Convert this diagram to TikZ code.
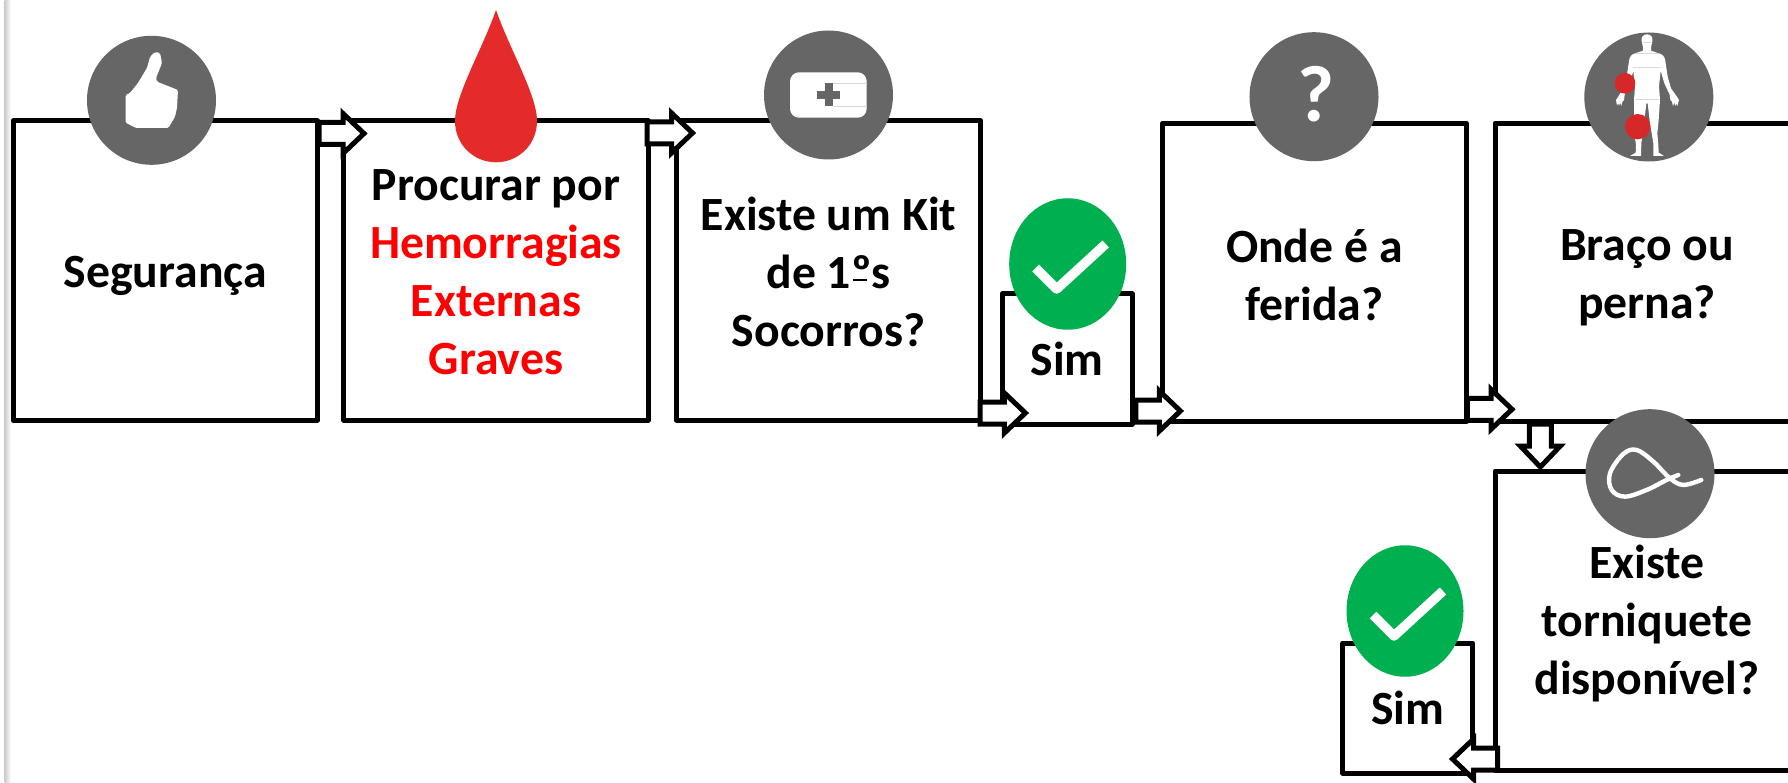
\documentclass[tikz,border=0pt]{standalone}
\usepackage{fontspec}
\setmainfont{Carlito}
\usetikzlibrary{calc,shapes.geometric}
\definecolor{icongray}{HTML}{666666}
\definecolor{okgreen}{HTML}{00B050}
\definecolor{dropred}{HTML}{E52A2A}
\definecolor{spotred}{HTML}{D62828}
\definecolor{txtred}{HTML}{FF0000}
\tikzset{
  stepbox/.style={draw=black,fill=white,line width=5pt,line join=round,rectangle,inner sep=0pt},
  steptext/.style={align=center,inner sep=0pt,font=\fontsize{47.7}{58}\selectfont\bfseries,text=black},
  iconcirc/.style={circle,fill=icongray,minimum size=129pt,inner sep=0pt},
  okcirc/.style={ellipse,fill=okgreen,minimum width=117pt,minimum height=131.5pt,inner sep=0pt},
  checkmark/.style={draw=white,line width=9.5pt,line join=round},
  blockto/.style={draw=black,fill=white,line width=5pt,miter limit=10,to path={
    -- ($(\tikztostart)!11pt!90:(\tikztotarget)$)
    -- ($(\tikztotarget)!21pt!(\tikztostart)!11pt!90:(\tikztotarget)$)
    -- ($(\tikztotarget)!21pt!(\tikztostart)!20pt!90:(\tikztotarget)$)
    -- (\tikztotarget)
    -- ($(\tikztotarget)!21pt!(\tikztostart)!20pt!-90:(\tikztotarget)$)
    -- ($(\tikztotarget)!21pt!(\tikztostart)!11pt!-90:(\tikztotarget)$)
    -- ($(\tikztostart)!11pt!-90:(\tikztotarget)$)
    -- cycle}},
}
\begin{document}
\begin{tikzpicture}[x=1pt,y=-1pt]
\useasboundingbox (0,0) rectangle (1788,783);
\clip (0,0) rectangle (1788,783);
\fill[white] (0,0) rectangle (1788,783);
\shade[left color=black!20,right color=white] (4.5,0) rectangle (11,783);

% boxes
\node[stepbox,minimum width=304.5pt,minimum height=299pt,
  label={[steptext,yshift=-5.5pt]center:Segurança}] (seg) at (165.3,270.5) {};
\node[stepbox,minimum width=304.5pt,minimum height=299pt,
  label={[steptext,yshift=-2pt]center:{Procurar por\\\textcolor{txtred}{Hemorragias}\\\textcolor{txtred}{Externas}\\\textcolor{txtred}{Graves}}}] (hem) at (496,270.5) {};
\node[stepbox,minimum width=304.5pt,minimum height=299pt,
  label={[steptext,yshift=-1pt]center:{Existe um Kit\\de 1º\llap{\rule[7pt]{.28em}{2.5pt}\kern5pt}s\\Socorros?}}] (kit) at (828.7,270.5) {};
\node[stepbox,minimum width=130pt,minimum height=130pt,
  label={[steptext]center:Sim}] (sim1) at (1067,359) {};
\node[stepbox,minimum width=304pt,minimum height=298.5pt,
  label={[steptext,yshift=-2pt]center:{Onde é a\\ferida?}}] (onde) at (1314.3,272.5) {};
\node[stepbox,minimum width=304pt,minimum height=298.5pt,
  label={[steptext,yshift=-5.5pt]center:{Braço ou\\perna?}}] (braco) at (1647,272.5) {};
\node[stepbox,minimum width=304pt,minimum height=299pt,
  label={[steptext,yshift=-3pt]center:{Existe\\torniquete\\disponível?}}] (torn) at (1647,620.5) {};
\node[stepbox,minimum width=130pt,minimum height=130pt,
  label={[steptext]center:Sim}] (sim2) at (1407.7,708) {};

% connectors
\coordinate (a1s) at (319,133.5);   \coordinate (a1t) at (364,133.5);
\coordinate (a2s) at (647,133);     \coordinate (a2t) at (692.5,133);
\coordinate (a3s) at (980,413);     \coordinate (a3t) at (1025.4,413);
\coordinate (a4s) at (1135.8,411);  \coordinate (a4t) at (1180.4,411);
\coordinate (a5s) at (1467.3,409.3);\coordinate (a5t) at (1512,409.3);
\coordinate (a6s) at (1540.3,424);  \coordinate (a6t) at (1540.3,467);
\coordinate (a7s) at (1497.7,759);  \coordinate (a7t) at (1452.5,759);
\path[blockto] (a1s) to (a1t);
\path[blockto] (a2s) to (a2t);
\path[blockto] (a3s) to (a3t);
\path[blockto] (a4s) to (a4t);
\path[blockto] (a5s) to (a5t);
\path[blockto] (a6s) to (a6t);
\path[blockto] (a7s) to (a7t);

% thumb icon
\node[iconcirc] (ic1) at (151.5,100.3) {};
\fill[white,rounded corners=1.5pt] (125.5,95) -- (125.5,122.7) -- (136,128) -- (168.4,128) -- (175,116.7) -- (177,108)
  -- (178,90) -- (157,81.7) -- (156,78) -- (162,63) -- (160,53) -- (155,52) -- (150,57) -- (147,68) -- (138,83) -- (130,93) -- cycle;

% blood drop
\fill[dropred] (496,10) .. controls (510,50) and (537,95) .. (537,121)
  .. controls (537,145) and (518,162.3) .. (496,162.3)
  .. controls (474,162.3) and (455,145) .. (455,121)
  .. controls (455,95) and (482,50) .. (496,10) -- cycle;

% first-aid kit icon
\node[iconcirc] (ic2) at (828.5,95) {};
\fill[white,rounded corners=9pt] (790,72.3) rectangle (866.7,117.7);
\draw[black!15,line width=.8pt] (833,83) -- (866.7,83) (833,106.7) -- (866.7,106.7);
\fill[icongray] (824.5,83.5) rectangle (832.5,106.5);
\fill[icongray] (817,91) rectangle (840,99);

% check 1
\node[okcirc] (ok1) at (1067.7,264) {};
\draw[checkmark] ($(ok1)+(-32,4)$) -- ($(ok1)+(-11,25)$) -- ($(ok1)+(38,-20)$);

% question icon
\node[iconcirc,label={[text=white,inner sep=0pt,font=\fontsize{80}{80}\selectfont\bfseries,xshift=2pt,yshift=2.5pt]center:?}] (ic3) at (1314,96.7) {};

% body icon
\node[iconcirc] (ic4) at (1648.8,97) {};
\begin{scope}[shift={(1570,20)},x=0.3333pt,y=-0.3333pt]
\fill[white] (231,43) .. controls (243,43) and (249,52) .. (247,64) -- (243,82) -- (243,92) -- (272,102) .. controls (282,106) and (286,116) .. (287,130)
  -- (293,170) -- (303,205) -- (318,226) -- (327,240) -- (325,246) -- (322,258) -- (318,250) -- (316,258) -- (313,248) -- (309,258) -- (306,245) -- (301,240) -- (299,224)
  -- (283,190) -- (272,152) -- (267,200) -- (270,240) -- (266,300) -- (262,340) -- (265,375) -- (266,398)
  -- (282,408) -- (250,408) -- (250,370) -- (240,310) -- (233,250) -- (229,250) -- (222,310) -- (214,370)
  -- (213,408) -- (180,408) -- (197,398) -- (198,375) -- (192,330) -- (192,240) -- (195,200) -- (190,152)
  -- (180,190) -- (164,224) -- (162,240) -- (157,245) -- (154,258) -- (150,248) -- (147,258) -- (145,250) -- (141,256) -- (138,240) -- (146,228)
  -- (160,205) -- (170,170) -- (176,130) .. controls (177,116) and (181,106) .. (190,102) -- (219,92) -- (219,82) -- (215,64) .. controls (213,52) and (219,43) .. (231,43) -- cycle;
\draw[black!15,line width=.5pt] (194,100) -- (268,100) (188,142) -- (274,142) (194,238) -- (268,238) (218,66) -- (244,66);
\fill[spotred] (165,190) circle[radius=31];
\fill[spotred] (203,320) circle[radius=38];
\end{scope}

% tourniquet icon
\node[iconcirc] (ic5) at (1650,473.7) {};
\begin{scope}[shift={(1300,0)},x=0.3333pt,y=-0.3333pt]
\draw[white,line width=4.4pt,line cap=round] plot[smooth,tension=.6] coordinates
  {(1204,1440) (1150,1455) (1110,1435) (1060,1385) (1010,1350) (970,1362) (930,1420) (935,1470) (975,1490) (1040,1470) (1100,1440) (1135,1425)};
\end{scope}

% check 2
\node[okcirc] (ok2) at (1405,611) {};
\draw[checkmark] ($(ok2)+(-32,4)$) -- ($(ok2)+(-11,25)$) -- ($(ok2)+(38,-20)$);
\end{tikzpicture}
\end{document}
